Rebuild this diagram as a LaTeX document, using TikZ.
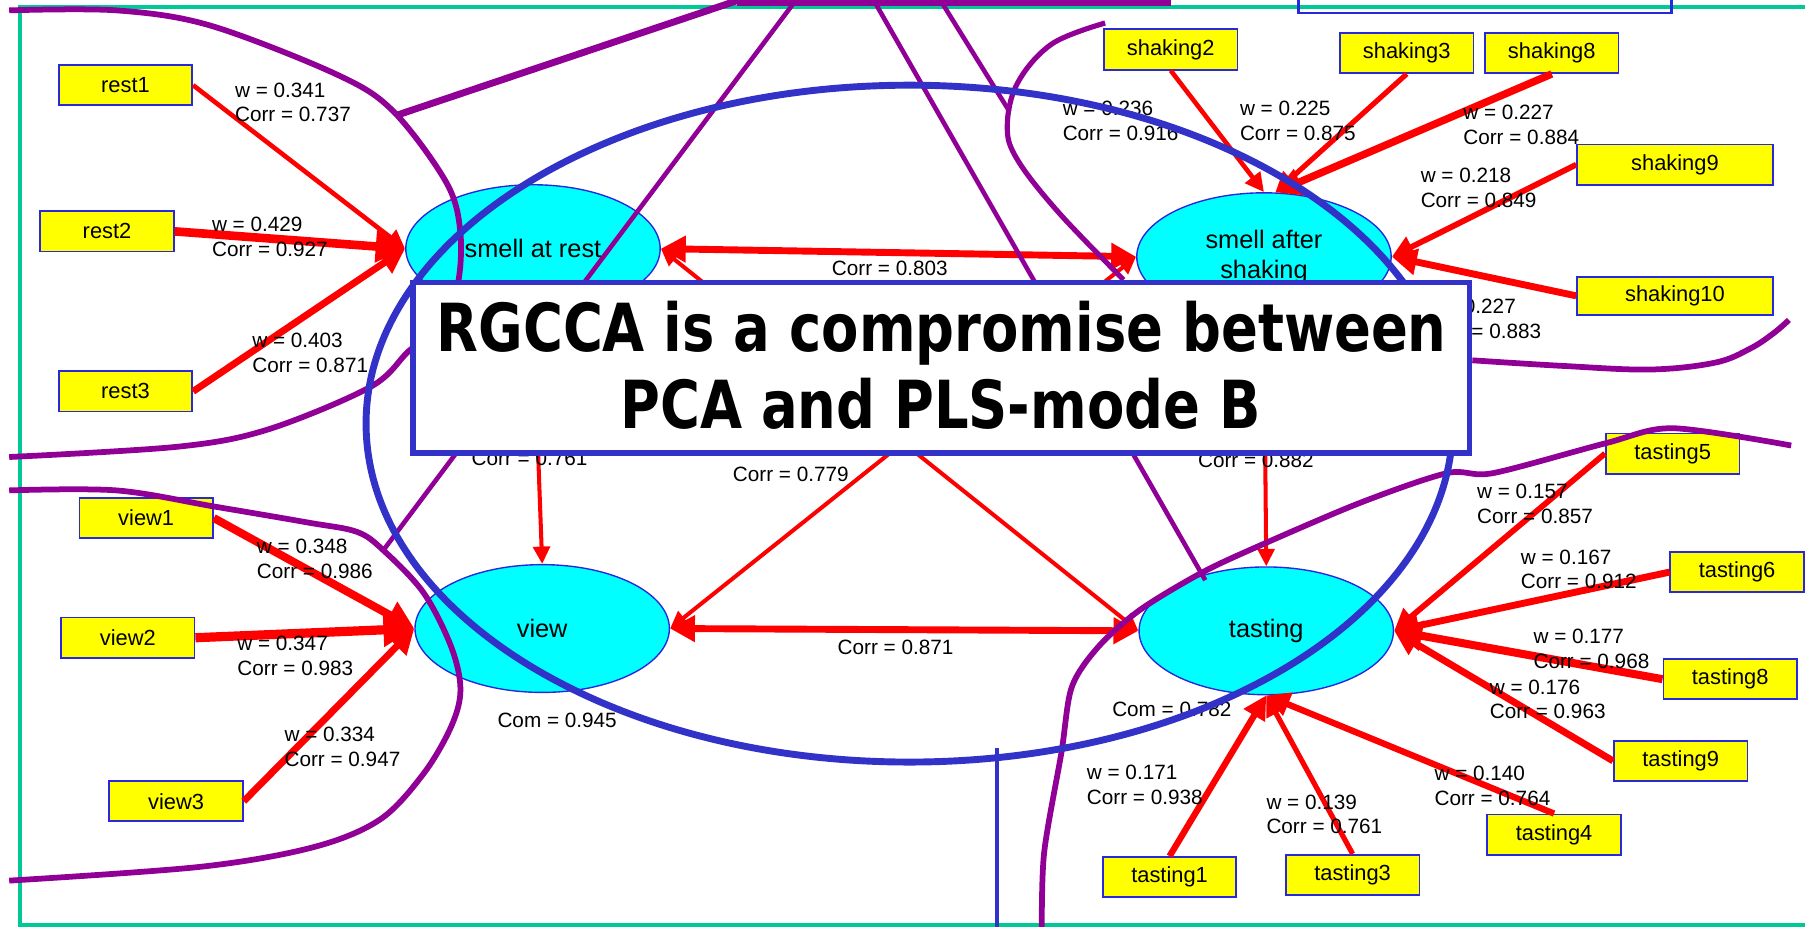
\documentclass[tikz,border=0pt]{standalone}
\usepackage{fontspec}
\setmainfont{Liberation Sans}
\newfontfamily\comicf{DejaVu Sans}[FakeStretch=0.82]
\usetikzlibrary{arrows.meta,shapes.geometric}
\definecolor{purp}{RGB}{145,0,150}
\definecolor{ovblue}{RGB}{50,50,200}
\definecolor{bxblue}{RGB}{40,40,220}
\definecolor{frgreen}{RGB}{0,200,150}
\definecolor{cyanf}{RGB}{0,255,255}
\definecolor{yel}{RGB}{255,255,0}
\begin{document}
\begin{tikzpicture}[x=1pt,y=-1pt,
  mv/.style={draw=bxblue, line width=1.5pt, fill=yel, minimum width=116pt, minimum height=35pt, inner sep=0pt, font=\fontsize{19}{22}\selectfont},
  lat/.style={ellipse, draw=bxblue, line width=1.2pt, fill=cyanf, minimum width=221pt, minimum height=111pt, inner sep=0pt, align=center, font=\fontsize{22}{26}\selectfont},
  lab/.style={font=\fontsize{18}{21.5}\selectfont, inner sep=0pt, align=left, anchor=west},
  clab/.style={font=\fontsize{18}{21.5}\selectfont, inner sep=0pt},
  marr/.style={draw=red, line width=#1pt, -{Triangle[length=6pt 2.6,width=4pt 3]}},
  darr/.style={draw=red, line width=#1pt, {Triangle[length=6pt 2.6,width=4pt 3]}-{Triangle[length=6pt 2.6,width=4pt 3]}},
  pline/.style={draw=purp, line width=#1pt, line join=round},
]
\useasboundingbox (0,0) rectangle (1568,805);
\clip (0,0) rectangle (1568,805);
% frame
\draw[frgreen, line width=3pt] (1575,6) -- (17.5,6) -- (17.5,803.5) -- (1575,803.5);
\draw[bxblue, line width=2pt] (1128,-10) rectangle (1452,11.5);

% latent variables
\node[lat] (sar) at (463,216) {smell at rest};
\node[lat] (sas) at (1098,223) {smell after\\shaking};
\node[lat] (view) at (471,546) {view};
\node[lat] (tas) at (1100,548) {tasting};

% manifest variables
\node[mv] (rest1) at (109,74) {rest1};
\node[mv] (rest2) at (93,201) {rest2};
\node[mv] (rest3) at (109,340) {rest3};
\node[mv] (view1) at (127,450) {view1};
\node[mv] (view2) at (111,554) {view2};
\node[mv] (view3) at (153,696) {view3};
\node[mv] (sh2) at (1017,43) {shaking2};
\node[mv] (sh3) at (1222,46) {shaking3};
\node[mv] (sh8) at (1348,46) {shaking8};
\node[mv, minimum width=170pt] (sh9) at (1455,143) {shaking9};
\node[mv, minimum width=170pt, minimum height=33pt] (sh10) at (1455,257) {shaking10};
\node[mv] (ta5) at (1453,394) {tasting5};
\node[mv] (ta6) at (1509,497) {tasting6};
\node[mv] (ta8) at (1503,590) {tasting8};
\node[mv] (ta9) at (1460,661) {tasting9};
\node[mv] (ta4) at (1350,725) {tasting4};
\node[mv] (ta1) at (1016,762) {tasting1};
\node[mv] (ta3) at (1175,760) {tasting3};

% outer arrows
\draw[marr=4] (rest1.east) -- (sar.west);
\draw[marr=7.5] (rest2.east) -- (sar.west);
\draw[marr=6] (rest3.east) -- (sar.west);
\draw[marr=7] (view1.east) -- (view.west);
\draw[marr=8] (view2.east) -- (view.west);
\draw[marr=6] (view3.east) -- (view.west);
\draw[marr=4] (sh2.south) -- (sas.north);
\draw[marr=4.5] (sh3.south) -- (sas.80);
\draw[marr=6.5] (sh8.south) -- (sas.80);
\draw[marr=5] (sh9.west) -- (sas.east);
\draw[marr=6] (sh10.west) -- (sas.east);
\draw[marr=5] (ta5.west) -- (tas.east);
\draw[marr=6] (ta6.west) -- (tas.east);
\draw[marr=7] (ta8.west) -- (tas.east);
\draw[marr=6] (ta9.west) -- (tas.east);
\draw[marr=5.5] (ta4.north) -- (tas.south);
\draw[marr=5.5] (ta1.north) -- (tas.south);
\draw[marr=4.5] (ta3.north) -- (tas.south);

% inner arrows
\draw[darr=6] (sar.east) -- (sas.west);
\draw[darr=3.5] (sar.east) -- (tas.west);
\draw[darr=3.5] (sas.west) -- (view.east);
\draw[darr=6] (view.east) -- (tas.west);
\draw[marr=3.5] (sar.south) -- (view.north);
\draw[marr=3.5] (sas.south) -- (tas.north);

% labels
\node[lab] (lr1) at (204,89) {w = 0.341\\Corr = 0.737};
\node[lab] (lr2) at (184,205.5) {w = 0.429\\Corr = 0.927};
\node[lab] (lr3) at (219,306.5) {w = 0.403\\Corr = 0.871};
\node[lab] (lv1) at (223,485.5) {w = 0.348\\Corr = 0.986};
\node[lab] (lv2) at (206,570) {w = 0.347\\Corr = 0.983};
\node[lab] (lv3) at (247,648.5) {w = 0.334\\Corr = 0.947};
\node[lab] (ls2) at (923,105) {w = 0.236\\Corr = 0.916};
\node[lab] (ls3) at (1077,105) {w = 0.225\\Corr = 0.875};
\node[lab] (ls8) at (1271,108.5) {w = 0.227\\Corr = 0.884};
\node[lab] (ls9) at (1234,163.5) {w = 0.218\\Corr = 0.849};
\node[lab] (ls10) at (1238,277) {w = 0.227\\Corr = 0.883};
\node[lab] (lt5) at (1283,437.5) {w = 0.157\\Corr = 0.857};
\node[lab] (lt6) at (1321,494.5) {w = 0.167\\Corr = 0.912};
\node[lab] (lt8) at (1332,563.5) {w = 0.177\\Corr = 0.968};
\node[lab] (lt9) at (1294,607.5) {w = 0.176\\Corr = 0.963};
\node[lab] (lt4) at (1246,683) {w = 0.140\\Corr = 0.764};
\node[lab] (lt1) at (944,681.5) {w = 0.171\\Corr = 0.938};
\node[lab] (lt3) at (1100,707.5) {w = 0.139\\Corr = 0.761};
\node[clab] (c1) at (773,233) {Corr = 0.803};
\node[clab] (c2) at (778,562) {Corr = 0.871};
\node[clab] (c3) at (687,412) {Corr = 0.779};
\node[clab] (c4) at (460,398) {Corr = 0.761};
\node[clab] (c5) at (1091,400) {Corr = 0.882};
\node[clab, anchor=west] (cm1) at (432,626) {Com = 0.945};
\node[clab, anchor=west] (cm2) at (966,616) {Com = 0.782};

% purple overlay
\draw[pline=5] plot[smooth,tension=0.55] coordinates {(8,9) (101,9) (182,22) (291,64) (341,96) (388,159) (400,203) (397,250) (380,285) (355,305) (322,336) (233,373) (155,388) (8,397)};
\draw[pline=5] plot[smooth,tension=0.55] coordinates {(8,426) (101,426) (186,440) (268,454) (310,462) (333,478) (368,515) (392,562) (400,599) (392,631) (368,672) (330,712) (272,736) (174,753) (8,765)};
\draw[pline=4.5] plot[smooth,tension=0.6] coordinates {(960,20) (914,38) (884,72) (875,110) (884,139) (920,185) (976,243)};
\draw[pline=5] plot[smooth,tension=0.6] coordinates {(1279,313) (1360,318) (1434,321) (1490,315) (1520,303) (1540,290) (1554,278)};
\draw[pline=5] plot[smooth,tension=0.5] coordinates {(1556,387) (1453,372) (1395,385) (1297,411) (1257,411) (1181,437) (1092,475) (1043,498) (990,530) (954,562) (931,597) (922,654) (907,741) (905,810)};
\draw[pline=6] (345,100) -- (642,0);
\draw[pline=7] (640,1.5) -- (1017,1.5);
\draw[pline=4] (690,2) -- (333,478);
\draw[pline=4] (760,2) -- (1047,504);
\draw[pline=4] (818,2) -- (877,97);

% blue overlay
\draw[ovblue, line width=6pt] (790,368) ellipse [x radius=472pt, y radius=294pt];
\draw[ovblue, line width=4pt] (866,650) -- (866,810);

% message box
\node[draw=ovblue, line width=5pt, fill=white, minimum width=918pt, minimum height=148pt, inner sep=0pt] (box) at (817.5,319.5) {};
\node[anchor=base, inner sep=0pt, font=\comicf\bfseries\fontsize{57.6pt}{67pt}\selectfont] (t1) at (818,305) {RGCCA is a compromise between};
\node[anchor=base, inner sep=0pt, font=\comicf\bfseries\fontsize{57.6pt}{67pt}\selectfont] (t2) at (817,372) {PCA and PLS-mode B};
\end{tikzpicture}
\end{document}
